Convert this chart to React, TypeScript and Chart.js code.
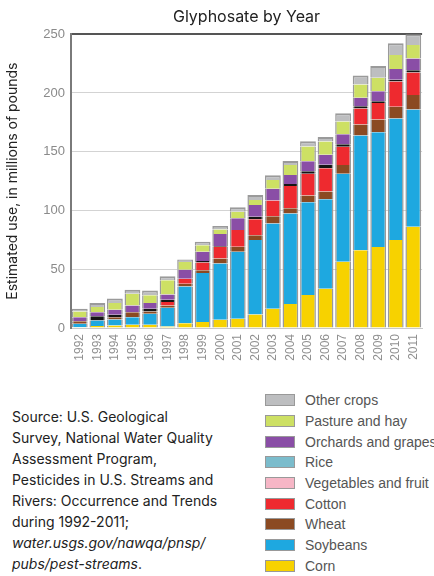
import React, { useEffect, useRef } from "react";
import { Chart, registerables } from "chart.js";

Chart.register(...registerables);

const years = ["1992","1993","1994","1995","1996","1997","1998","1999","2000","2001","2002","2003","2004","2005","2006","2007","2008","2009","2010","2011"];

const corn = [0.7, 1.6, 2.1, 2.7, 2.7, 1.3, 4, 5, 7, 7.9, 11.5, 16.4, 20.5, 28, 33.5, 56.3, 66.2, 69, 74.8, 86.2];
const soybeans = [2.9, 4.8, 5.2, 6.5, 9.4, 16, 31.4, 41.8, 47.9, 56.9, 63.3, 72.6, 77, 79, 76.1, 75, 97.5, 97.5, 103.5, 99.7];
const wheat = [2.2, 0, 1.9, 4.3, 2, 1.9, 2.3, 2.3, 4.2, 4.3, 4.2, 6, 4.3, 5.7, 6.5, 7.5, 9.4, 11, 10, 12.4];
const cotton = [0, 0, 0, 0, 0, 2.9, 4.2, 6.6, 10, 14.2, 13.5, 13.5, 19.1, 18.6, 19.9, 15.5, 13.6, 14, 21.5, 19.1];
const vegetables = [0, 0, 0, 0, 0, 0, 0, 0, 0, 0, 0, 0, 0, 0, 0, 0, 0, 0, 0, 0];
const rice = [0, 3.7, 2.1, 0, 2.3, 2, 0, 1.4, 0.6, 0, 2.2, 0, 1.6, 2, 2.9, 2, 2, 1.5, 1.5, 2];
const orchards = [3.4, 3.4, 4.3, 5.7, 4.8, 4.5, 7.7, 7.7, 10.2, 10, 10, 10, 7.7, 8.6, 8.5, 8.5, 7.2, 8.5, 9, 10];
const pasture = [4.9, 4.3, 5.6, 10, 6.6, 12, 6.6, 5.7, 4, 5.7, 4.3, 7.5, 8.6, 12.5, 11.4, 11, 11.4, 11.5, 12, 11.5];
const other = [2.3, 3.4, 3.8, 3.4, 4.2, 3.4, 2, 2.8, 2.9, 3.7, 4.2, 4, 3.4, 4.6, 3.8, 7, 7.5, 10, 10, 9];

const seriesNames = ["Corn", "Soybeans", "Wheat", "Cotton", "Vegetables and fruit", "Rice", "Orchards and grapes", "Pasture and hay", "Other crops"];
const seriesValues = [corn, soybeans, wheat, cotton, vegetables, rice, orchards, pasture, other];
const legendColors = ["#f7d200", "#1ea8e0", "#8b4a22", "#ee2a2f", "#f6b6c6", "#7bbccc", "#8a4ea6", "#cde064", "#bdbec0"];
const barColors = ["#f7d200", "#1ea8e0", "#8b4a22", "#ee2a2f", "#f6b6c6", "#151515", "#8a4ea6", "#cde064", "#bdbec0"];

const chartTitle = "Glyphosate by Year";
const yTitle = "Estimated use, in millions of pounds";
const tickFont = "'Liberation Sans', Arial, sans-serif";

export default function App() {
  const ref = useRef<HTMLCanvasElement | null>(null);

  useEffect(() => {
    if (!ref.current) return;
    const last = seriesNames.length - 1;
    const chart = new Chart(ref.current, {
      type: "bar",
      data: {
        labels: years,
        datasets: seriesNames.map((name, i) => ({
          label: name,
          data: seriesValues[i],
          backgroundColor: barColors[i],
          borderColor: "#9a9a9a",
          borderWidth: { left: 1.5, right: 1.5, top: i === last ? 2 : 0, bottom: 0 },
          borderSkipped: false,
          barPercentage: 0.9,
          categoryPercentage: 1.0,
        })),
      },
      options: {
        responsive: false,
        animation: false,
        maintainAspectRatio: false,
        layout: { padding: { left: 0, right: 8, top: 0, bottom: 0 } },
        plugins: {
          legend: { display: false },
          tooltip: { enabled: false },
          title: {
            display: true,
            text: chartTitle,
            fullSize: false,
            color: "#222",
            font: { family: "Inter, 'Noto Sans', sans-serif", size: 16, weight: "normal" },
            padding: { top: 8, bottom: 7 },
          },
        },
        scales: {
          x: {
            stacked: true,
            grid: { display: false, drawTicks: false },
            border: { color: "#c8c8c8", width: 1 },
            ticks: {
              autoSkip: false,
              minRotation: 90,
              maxRotation: 90,
              padding: 6,
              color: "#909090",
              font: { family: tickFont, size: 12 },
            },
            afterFit: (s: any) => { s.height = 44; },
          },
          y: {
            stacked: true,
            min: 0,
            max: 250,
            z: 1,
            grid: {
              drawTicks: false,
              color: (ctx: any) => (ctx.tick && ctx.tick.value === 250 ? "#555" : "rgba(200,200,200,0.8)"),
              lineWidth: (ctx: any) => (ctx.tick && ctx.tick.value === 250 ? 2 : 1),
            },
            border: { color: "#7a7a7a", width: 2 },
            ticks: {
              stepSize: 50,
              padding: 6,
              color: "#8a8a8a",
              font: { family: tickFont, size: 13 },
            },
            title: {
              display: true,
              text: yTitle,
              color: "#222",
              font: { family: "Inter, 'Noto Sans', sans-serif", size: 14 },
              padding: { top: 4, bottom: 0 },
            },
            afterFit: (s: any) => { s.width = 71; },
          },
        },
      },
    });
    return () => chart.destroy();
  }, []);

  const legendOrder = seriesNames.map((_, i) => i).reverse();

  return (
    <div style={{ position: "absolute", left: 0, top: 0, width: 434, height: 576, overflow: "hidden", background: "#fff" }}>
      <canvas ref={ref} width={434} height={372} style={{ position: "absolute", left: 0, top: 0, width: 434, height: 372 }} />
      <div
        style={{
          position: "absolute",
          left: 12,
          top: 406,
          width: 240,
          fontFamily: "Inter, 'Noto Sans', sans-serif",
          fontSize: 14,
          lineHeight: "21px",
          color: "#222",
        }}
      >
        Source: U.S. Geological<br />
        Survey, National Water Quality<br />
        Assessment Program,<br />
        Pesticides in U.S. Streams and<br />
        Rivers: Occurrence and Trends<br />
        during 1992-2011;<br />
        <i>water.usgs.gov/nawqa/pnsp/</i><br />
        <i>pubs/pest-streams</i>.
      </div>
      <div style={{ position: "absolute", left: 265, top: 390, width: 169, overflow: "hidden" }}>
        {legendOrder.map((i) => (
          <div key={seriesNames[i]} style={{ height: 20.7, display: "flex", alignItems: "center", whiteSpace: "nowrap" }}>
            <span
              style={{
                display: "inline-block",
                width: 28,
                height: 10,
                background: legendColors[i],
                border: "1px solid #999",
                marginRight: 10,
                flex: "0 0 auto",
              }}
            />
            <span style={{ fontFamily: tickFont, fontSize: 14, color: "#555" }}>{seriesNames[i]}</span>
          </div>
        ))}
      </div>
    </div>
  );
}
